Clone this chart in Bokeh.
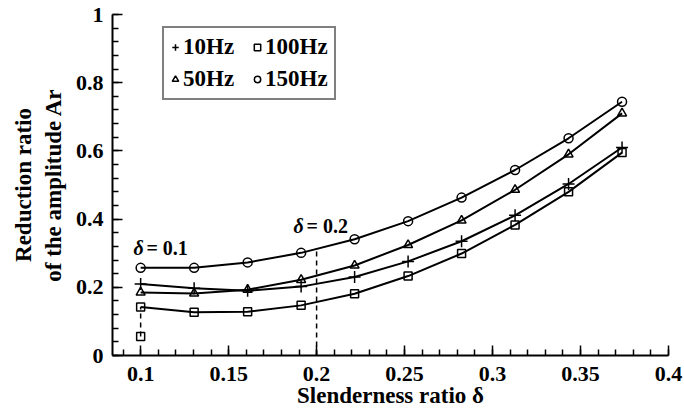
from bokeh.plotting import figure
from bokeh.models import Label, Legend, LegendItem, FixedTicker, CustomJSTickFormatter
from bokeh.embed import file_html
from bokeh.resources import INLINE

# ---- data ----
delta = [0.1, 0.1304, 0.1608, 0.1912, 0.2216, 0.252, 0.2824, 0.3128, 0.3432, 0.3736]
ar_10hz = [0.210, 0.197, 0.190, 0.202, 0.230, 0.276, 0.335, 0.411, 0.503, 0.610]
ar_50hz = [0.185, 0.182, 0.193, 0.222, 0.264, 0.324, 0.396, 0.486, 0.590, 0.710]
ar_100hz = [0.142, 0.127, 0.128, 0.147, 0.181, 0.233, 0.299, 0.383, 0.480, 0.595]
ar_150hz = [0.257, 0.257, 0.273, 0.301, 0.341, 0.394, 0.463, 0.544, 0.637, 0.744]
outlier_x = [0.1]
outlier_y = [0.056]
guide_x = [0.1, 0.2]
guide_y0 = [0.056, 0.0]
guide_y1 = [0.142, 0.314]
x_ticks = [0.1, 0.15, 0.2, 0.25, 0.3, 0.35, 0.4]
x_minor = [round(0.09 + 0.01 * i, 2) for i in range(32)]
y_ticks = [0.0, 0.2, 0.4, 0.6, 0.8, 1.0]
y_minor = [round(0.04 * i, 2) for i in range(26)]
labels = ["10Hz", "50Hz", "100Hz", "150Hz"]
x_title = "Slenderness ratio δ"
y_title = "Reduction ratio\nof the amplitude Ar"

FONT = "Liberation Serif"

p = figure(width=684, height=415, x_range=(0.084, 0.4), y_range=(0, 1),
           output_backend="svg", toolbar_location=None,
           min_border_left=112, min_border_right=16, min_border_top=14, min_border_bottom=60)
p.outline_line_color = None
p.xgrid.visible = False
p.ygrid.visible = False
p.background_fill_color = "white"
p.border_fill_color = "white"

fmt = CustomJSTickFormatter(code="return tick.toFixed(2).replace(/\\.?0+$/, '');")
p.xaxis.ticker = FixedTicker(ticks=x_ticks, minor_ticks=x_minor)
p.yaxis.ticker = FixedTicker(ticks=y_ticks, minor_ticks=y_minor)
for ax in (p.xaxis, p.yaxis):
    ax.formatter = fmt
    ax.axis_line_width = 2
    ax.axis_line_color = "black"
    ax.major_tick_line_width = 1.5
    ax.minor_tick_line_width = 1.5
    ax.major_tick_line_color = "black"
    ax.minor_tick_line_color = "black"
    ax.major_tick_in = 10
    ax.major_tick_out = 0
    ax.minor_tick_in = 6
    ax.minor_tick_out = 0
    ax.major_label_text_font = FONT
    ax.major_label_text_font_style = "bold"
    ax.major_label_text_font_size = "22px"
    ax.major_label_text_color = "black"
    ax.axis_label_text_font = FONT
    ax.axis_label_text_font_style = "bold"
    ax.axis_label_text_font_size = "23px"
    ax.axis_label_text_color = "black"
p.xaxis.major_label_standoff = 11
p.yaxis.major_label_standoff = 9
p.xaxis.axis_label = x_title
p.yaxis.axis_label = y_title
p.xaxis.axis_label_standoff = -1
p.yaxis.axis_label_standoff = 7

# guide dashed lines
p.segment(x0=guide_x, y0=guide_y0, x1=guide_x, y1=guide_y1,
          line_color="black", line_width=1.5, line_dash="5 4")

series = [ar_10hz, ar_50hz, ar_100hz, ar_150hz]
markers = ["cross", "triangle", "square", "circle"]
sizes = [12, 9, 8, 9]
rends = []
for ys, mk, sz in zip(series, markers, sizes):
    p.line(delta, ys, line_color="black", line_width=2)
    r = p.scatter(delta, ys, marker=mk, size=sz, line_color="black",
                  line_width=1.5, fill_color=None)
    rends.append(r)

p.scatter(outlier_x, outlier_y, marker="square", size=8, line_color="black",
          line_width=1.5, fill_color=None)

items = [LegendItem(label=lb, renderers=[r]) for lb, r in zip(labels, rends)]
legend = Legend(items=items, location=(50, 255), orientation="vertical", nrows=2,
                label_text_font=FONT, label_text_font_style="bold",
                label_text_font_size="23px", label_text_color="black",
                glyph_width=16, glyph_height=20, label_standoff=0, spacing=0,
                padding=3, margin=0, border_line_color="black", border_line_width=2,
                background_fill_alpha=1.0, background_fill_color="white",
                label_height=32, label_width=66)
p.add_layout(legend, "center")

# annotations inside the plot
def lab(text, x, y, style="bold", size="20px", align="left"):
    p.add_layout(Label(x=x, y=y, text=text, text_font=FONT, text_font_style=style,
                       text_font_size=size, text_align=align, text_baseline="alphabetic",
                       text_color="black"))

lab("δ", 0.0959, 0.3167, style="bold italic")
lab("= 0.1", 0.1033, 0.3167)
lab("δ", 0.1869, 0.3783, style="bold italic")
lab("= 0.2", 0.1943, 0.3783)

open("out.html", "w").write(file_html(p, INLINE))
